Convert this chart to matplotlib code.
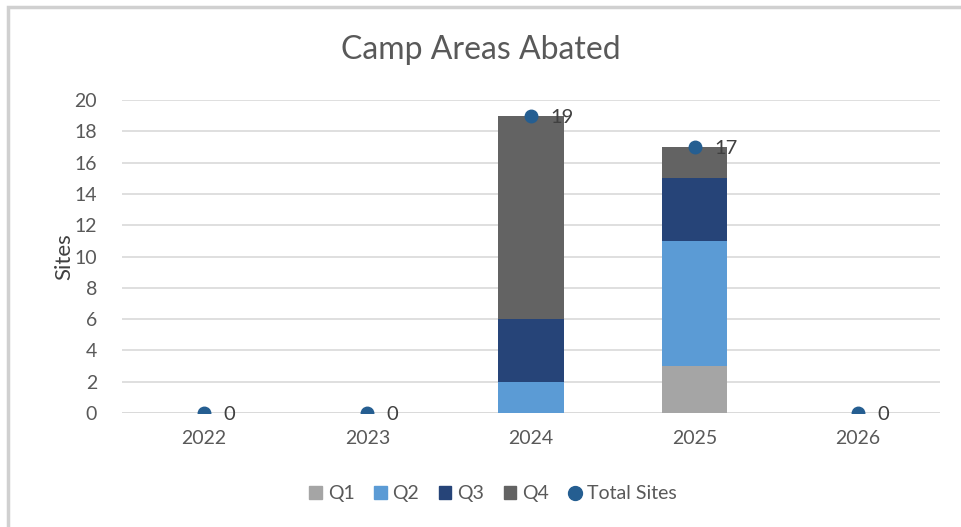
import matplotlib.pyplot as plt
import matplotlib.patches as mpatches
from matplotlib.lines import Line2D
import numpy as np

plt.rcParams['font.family'] = ['Lato', 'DejaVu Sans']

years = ['2022', '2023', '2024', '2025', '2026']
q1 = [0, 0, 0, 3, 0]
q2 = [0, 0, 2, 8, 0]
q3 = [0, 0, 4, 4, 0]
q4 = [0, 0, 13, 2, 0]
total = [0, 0, 19, 17, 0]

colors = ['#a5a5a5', '#5b9bd5', '#264478', '#636363']
dot_color = '#255e91'
text_color = '#595959'

fig = plt.figure(figsize=(9.61, 5.27), dpi=100)
# outer chart border
fig.patches.append(mpatches.Rectangle((8/961, -0.1), 1.2, 1 - 7/527 + 0.1,
                                      transform=fig.transFigure, fill=False,
                                      edgecolor='#d0d0d0', linewidth=2.5))
ax = fig.add_axes([0.127, 0.2163, 0.851, 0.5939])

x = np.arange(len(years))
bottom = np.zeros(len(years))
series = [q1, q2, q3, q4]
names = ['Q1', 'Q2', 'Q3', 'Q4']
for vals, c, n in zip(series, colors, names):
    ax.bar(x, vals, width=0.4, bottom=bottom, color=c, label=n, zorder=2)
    bottom += np.array(vals)

ax.plot(x, total, 'o', color=dot_color, markersize=9, linestyle='none', zorder=3, label='Total Sites')
for xi, t in zip(x, total):
    ax.annotate(str(t), (xi, t), xytext=(14, -1), textcoords='offset points',
                va='center', ha='left', fontsize=14.5, color='#404040', zorder=4)

ax.set_xlim(-0.5, len(years) - 0.5)
ax.set_ylim(0, 20)
ax.set_yticks(range(0, 21, 2))
ax.set_xticks(x)
ax.set_xticklabels(years)
ax.tick_params(axis='both', length=0, labelsize=14, labelcolor=text_color)
ax.tick_params(axis='x', pad=12)
ax.tick_params(axis='y', pad=18)
ax.yaxis.grid(True, color='#d9d9d9', linewidth=1.2, zorder=0)
ax.set_axisbelow(True)
for s in ax.spines.values():
    s.set_visible(False)
ax.axhline(0, color='#d9d9d9', linewidth=1.2, zorder=1)

ax.set_ylabel('Sites', fontsize=16, color='#404040', labelpad=0)
fig.text(0.5, 0.905, 'Camp Areas Abated', ha='center', va='center', fontsize=23, color='#595959')

handles = [mpatches.Patch(color=c) for c in colors] + [
    Line2D([], [], marker='o', color=dot_color, linestyle='none', markersize=10)]
leg = fig.legend(handles, names + ['Total Sites'], loc='center', bbox_to_anchor=(0.513, 0.063),
                 ncol=5, frameon=False, fontsize=14, handlelength=0.65, handleheight=0.65,
                 handletextpad=0.3, columnspacing=1.0)
for t in leg.get_texts():
    t.set_color(text_color)

fig.savefig('out.png', dpi=100)
